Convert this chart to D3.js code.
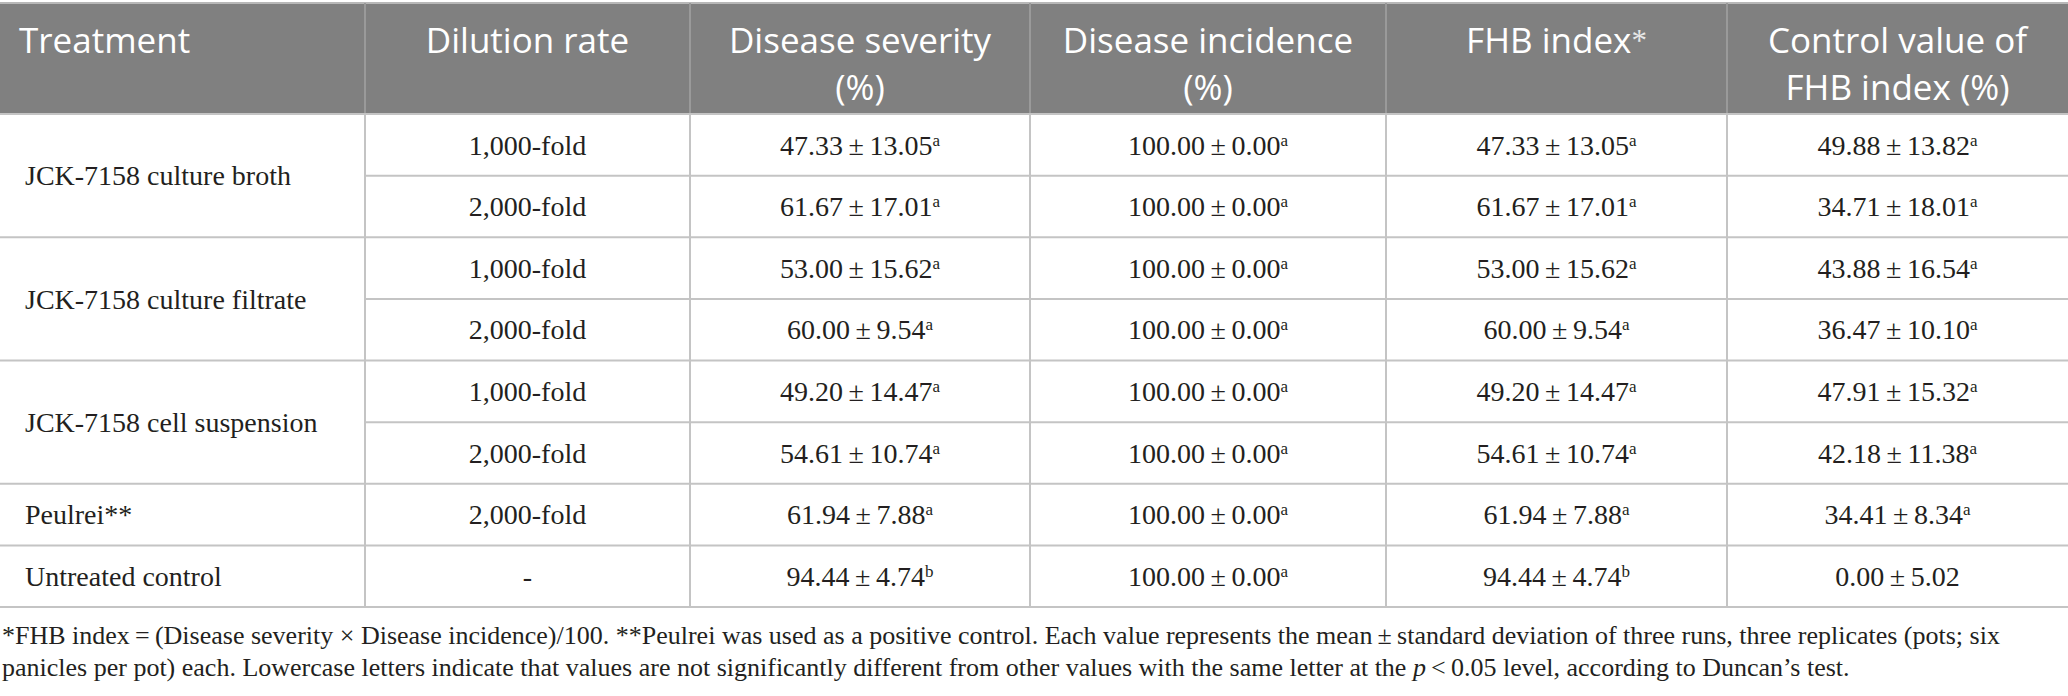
<!DOCTYPE html>
<html>
<head>
<meta charset="utf-8">
<script src="https://cdn.jsdelivr.net/npm/d3@7"></script>
<style>
  html, body { margin: 0; padding: 0; background: #ffffff; }
  svg { display: block; }
</style>
</head>
<body>
<svg id="chart" width="2068" height="696"></svg>
<script>
// ---------- data ----------
const headers = [
  ["Treatment"],
  ["Dilution rate"],
  ["Disease severity", "(%)"],
  ["Disease incidence", "(%)"],
  ["FHB index*"],
  ["Control value of", "FHB index (%)"]
];
const treatments = ["JCK-7158 culture broth", "JCK-7158 culture filtrate", "JCK-7158 cell suspension", "Peulrei**", "Untreated control"];
const groupSizes = [2, 2, 2, 1, 1];
const dilutions = ["1,000-fold", "2,000-fold", "1,000-fold", "2,000-fold", "1,000-fold", "2,000-fold", "2,000-fold", "-"];
const severityMean = [47.33, 61.67, 53.00, 60.00, 49.20, 54.61, 61.94, 94.44];
const severitySD   = [13.05, 17.01, 15.62, 9.54, 14.47, 10.74, 7.88, 4.74];
const severityLet  = ["a", "a", "a", "a", "a", "a", "a", "b"];
const incidenceMean = [100.00, 100.00, 100.00, 100.00, 100.00, 100.00, 100.00, 100.00];
const incidenceSD   = [0.00, 0.00, 0.00, 0.00, 0.00, 0.00, 0.00, 0.00];
const incidenceLet  = ["a", "a", "a", "a", "a", "a", "a", "a"];
const fhbMean = [47.33, 61.67, 53.00, 60.00, 49.20, 54.61, 61.94, 94.44];
const fhbSD   = [13.05, 17.01, 15.62, 9.54, 14.47, 10.74, 7.88, 4.74];
const fhbLet  = ["a", "a", "a", "a", "a", "a", "a", "b"];
const controlMean = [49.88, 34.71, 43.88, 36.47, 47.91, 42.18, 34.41, 0.00];
const controlSD   = [13.82, 18.01, 16.54, 10.10, 15.32, 11.38, 8.34, 5.02];
const controlLet  = ["a", "a", "a", "a", "a", "a", "a", ""];
const footnotes = [
  "*FHB index\u2009=\u2009(Disease severity \u00d7 Disease incidence)/100. **Peulrei was used as a positive control. Each value represents the mean\u2009\u00b1\u2009standard deviation of three runs, three replicates (pots; six",
  "panicles per pot) each. Lowercase letters indicate that values are not significantly different from other values with the same letter at the |p|\u2009<\u20090.05 level, according to Duncan\u2019s test."
];

// ---------- layout ----------
const W = 2068;
const colEdges = [0, 365, 690, 1030, 1386, 1727, 2068];
const tableTop = 3, headerBottom = 114, tableBottom = 607;
const nRows = dilutions.length;
const fmt = d3.format(".2f");

const svg = d3.select("#chart");
const x = d3.scaleOrdinal().domain(d3.range(6)).range(colEdges.slice(0, 6));
const xr = d3.scaleOrdinal().domain(d3.range(6)).range(colEdges.slice(1));
const y = d3.scaleLinear().domain([0, nRows]).range([headerBottom, tableBottom]);
const cx = i => (x(i) + xr(i)) / 2;

const lineColor = "#c4c4c4";
const serif = "'Liberation Serif', 'Times New Roman', serif";
const sans = "'Open Sans', 'Noto Sans', sans-serif";

// header background
svg.append("rect").attr("x", 0).attr("y", tableTop).attr("width", W)
  .attr("height", headerBottom - tableTop).attr("fill", "#808080");
svg.append("line").attr("x1", 0).attr("x2", W).attr("y1", tableTop).attr("y2", tableTop)
  .attr("stroke", "#b8b8b8").attr("stroke-width", 2);

// header text
const hdrSize = 35, hdrBase = 53, hdrGap = 47;
const hdr = svg.append("g").attr("font-family", sans).attr("font-size", hdrSize).attr("fill", "#ffffff");
headers.forEach((lines, i) => {
  const hx = i === 0 ? x(i) + 19 : cx(i);
  lines.forEach((ln, k) => {
    const t = hdr.append("text")
      .attr("x", hx)
      .attr("y", hdrBase + k * hdrGap)
      .attr("text-anchor", i === 0 ? "start" : "middle");
    if (ln.endsWith("*")) {
      t.append("tspan").text(ln.slice(0, -1));
      t.append("tspan").text("*").attr("font-family", serif).attr("font-size", 31).attr("dy", -2).attr("fill", "#e8e8e8");
    } else {
      t.text(ln);
    }
  });
});

// grid lines
const grid = svg.append("g").attr("stroke", lineColor).attr("stroke-width", 2);
colEdges.slice(1, -1).forEach(ex => {
  grid.append("line").attr("x1", ex).attr("x2", ex).attr("y1", tableTop).attr("y2", headerBottom).attr("stroke", "#9a9a9a");
  grid.append("line").attr("x1", ex).attr("x2", ex).attr("y1", headerBottom).attr("y2", tableBottom);
});
let groupStarts = [];
let acc = 0;
groupSizes.forEach(g => { groupStarts.push(acc); acc += g; });
for (let r = 0; r <= nRows; r++) {
  const full = r === 0 || r === nRows || groupStarts.includes(r);
  grid.append("line").attr("x1", full ? 0 : colEdges[1]).attr("x2", W)
    .attr("y1", y(r)).attr("y2", y(r));
}

// body text
const body = svg.append("g").attr("font-family", serif).attr("font-size", 28).attr("fill", "#231f20");
const rowMid = r => (y(r) + y(r + 1)) / 2;

treatments.forEach((t, g) => {
  const r0 = groupStarts[g], r1 = r0 + groupSizes[g];
  body.append("text").attr("x", x(0) + 25).attr("y", (y(r0) + y(r1)) / 2)
    .attr("dy", "0.35em").text(t);
});
dilutions.forEach((d, r) => {
  body.append("text").attr("x", cx(1)).attr("y", rowMid(r)).attr("dy", "0.35em")
    .attr("text-anchor", "middle").text(d);
});
const valueCols = [
  [severityMean, severitySD, severityLet],
  [incidenceMean, incidenceSD, incidenceLet],
  [fhbMean, fhbSD, fhbLet],
  [controlMean, controlSD, controlLet]
];
valueCols.forEach(([m, s, l], j) => {
  const col = j + 2;
  m.forEach((v, r) => {
    const t = body.append("text").attr("x", cx(col)).attr("y", rowMid(r)).attr("dy", "0.35em")
      .attr("text-anchor", "middle");
    t.append("tspan").text(fmt(v) + "\u2009\u00b1\u2009" + fmt(s[r]));
    if (l[r]) t.append("tspan").text(l[r]).attr("font-size", 17).attr("baseline-shift", "super");
  });
});

// footnotes
const foot = svg.append("g").attr("font-family", serif).attr("font-size", 26).attr("fill", "#231f20");
footnotes.forEach((f, k) => {
  const t = foot.append("text").attr("x", 2).attr("y", 644 + k * 32);
  f.split("|").forEach((part, i) => {
    const sp = t.append("tspan").text(part);
    if (i === 1) sp.attr("font-style", "italic");
  });
});
</script>
</body>
</html>
